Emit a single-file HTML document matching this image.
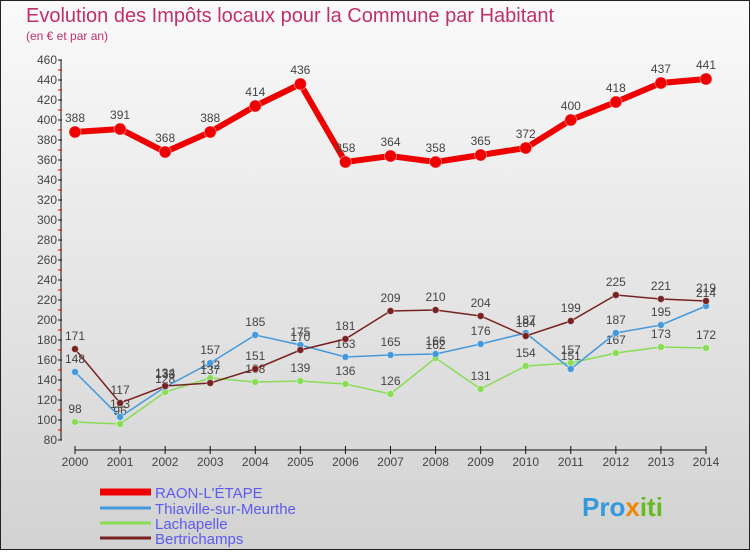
<!DOCTYPE html>
<html><head><meta charset="utf-8"><style>
body{margin:0;width:750px;height:550px;overflow:hidden;font-family:"Liberation Sans",sans-serif}
svg text{font-family:"Liberation Sans",sans-serif}
</style></head><body>
<svg id="chart" width="750" height="550" xmlns="http://www.w3.org/2000/svg">
<defs><linearGradient id="bg" x1="0" y1="0" x2="0" y2="1"><stop offset="0" stop-color="#fafafa"/><stop offset="1" stop-color="#d2d2d2"/></linearGradient></defs>
<rect x="0.5" y="0.5" width="749" height="549" fill="url(#bg)" stroke="#222"/>
<text x="26" y="22" font-size="20" fill="#c0306a">Evolution des Impôts locaux pour la Commune par Habitant</text>
<text x="26" y="40" font-size="12" fill="#c0306a">(en € et par an)</text>
<g id="axes"></g><g id="series"></g><g id="legend"></g>
<g><text x="582" y="516" font-size="26" font-weight="bold" fill="#3399dd">Pro<tspan fill="#ee8800">x</tspan><tspan fill="#66bb22">iti</tspan></text></g>
</svg>
<script>
const years=[2000,2001,2002,2003,2004,2005,2006,2007,2008,2009,2010,2011,2012,2013,2014];
const raon=[388,391,368,388,414,436,358,364,358,365,372,400,418,437,441];
const thiaville=[148,103,133,157,185,175,163,165,166,176,187,151,187,195,214];
const lachapelle=[98,96,128,142,138,139,136,126,162,131,154,157,167,173,172];
const bertrichamps=[171,117,134,137,151,170,181,209,210,204,184,199,225,221,219];
const yTicks=[80,100,120,140,160,180,200,220,240,260,280,300,320,340,360,380,400,420,440,460];
const NS="http://www.w3.org/2000/svg";
const X=i=>75+i*(706-75)/(years.length-1);
const Y=v=>60+(460-v)*(380/380);
function mk(t,a,p){const e=document.createElementNS(NS,t);for(const k in a)e.setAttribute(k,a[k]);p.appendChild(e);return e;}
const ax=document.getElementById('axes');
let l=mk('line',{x1:61,y1:60,x2:61,y2:440,stroke:'#111'},ax);


yTicks.forEach(v=>{
 mk('line',{x1:58,y1:Y(v),x2:62,y2:Y(v),stroke:'#111'},ax);
 if(v<460)mk('line',{x1:58,y1:Y(v+10),x2:62,y2:Y(v+10),stroke:'#e00'},ax);
 const t=mk('text',{x:57,y:Y(v)+4,'font-size':12,fill:'#444','text-anchor':'end'},ax);t.textContent=v;
 
 
});
l=mk('line',{x1:75,y1:450,x2:706,y2:450,stroke:'#111'},ax);


years.forEach((y,i)=>{
 mk('line',{x1:X(i),y1:446,x2:X(i),y2:454,stroke:'#111'},ax);
 const t=mk('text',{x:X(i),y:466,'font-size':12,fill:'#444','text-anchor':'middle'},ax);t.textContent=y;
 
 
});
const sg=document.getElementById('series');
const S=[
 {n:'raon',d:raon,c:'#ee0000',w:6,r:6,lab:'RAON-L\'ÉTAPE'},
 {n:'lachapelle',d:lachapelle,c:'#88dd55',w:1.5,r:3.5,lab:'Lachapelle'},
 {n:'thiaville',d:thiaville,c:'#4499dd',w:1.5,r:3.5,lab:'Thiaville-sur-Meurthe'},
 {n:'bertrichamps',d:bertrichamps,c:'#772222',w:1.5,r:3.5,lab:'Bertrichamps'}];
S.forEach(s=>{
 const g=mk('g',{},sg);
 
 
 const pts=s.d.map((v,i)=>X(i)+','+Y(v)).join(' ');
 mk('polyline',{points:pts,fill:'none',stroke:s.c,'stroke-width':s.w},g);
 s.d.forEach((v,i)=>{
  const c=mk('circle',{cx:X(i),cy:Y(v),r:s.r,fill:s.c,stroke:'#fff','stroke-opacity':0.4},g);
  
  
  const t=mk('text',{x:X(i),y:Y(v)-(s.w>3?10:9),'font-size':12,fill:'#444','text-anchor':'middle'},g);t.textContent=v;
  
  
 });
});
const lg=document.getElementById('legend');
const LS=[S[0],S[2],S[1],S[3]];const ly=[492,508,523,538];
LS.forEach((s,i)=>{
 const g=mk('g',{},lg);
 
 
 mk('line',{x1:100,y1:ly[i],x2:151,y2:ly[i],stroke:s.c,'stroke-width':i==0?7:3},g);
 const t=mk('text',{x:155,y:ly[i]+6,'font-size':15,fill:'#5b5bee'},g);t.textContent=s.lab;
});
</script>
</body></html>
